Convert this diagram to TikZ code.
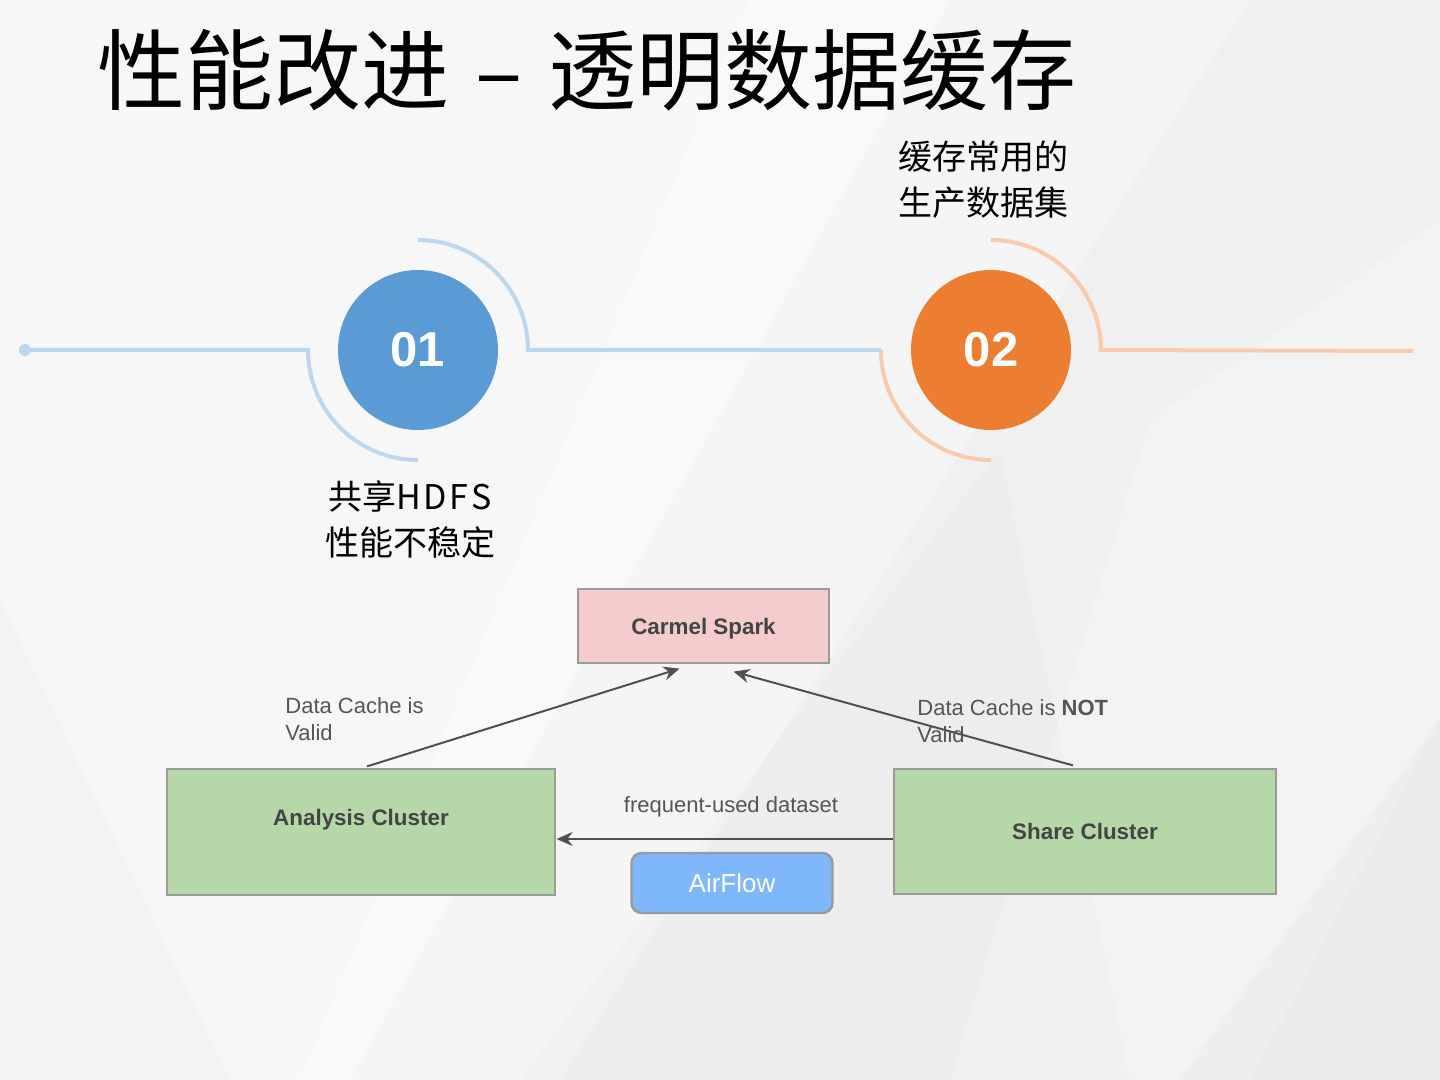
\documentclass[tikz,border=0pt]{standalone}
\usepackage{fontspec}
\setmainfont{Liberation Sans}
\newfontfamily\cjk{Noto Sans CJK SC}
\usetikzlibrary{calc,arrows.meta}
\definecolor{bgbase}{HTML}{F0F0F0}
\definecolor{blueline}{HTML}{BDD7EE}
\definecolor{orangeline}{HTML}{F8CBAD}
\definecolor{blueball}{HTML}{5B9BD5}
\definecolor{orangeball}{HTML}{ED7D31}
\definecolor{pinkbox}{HTML}{F4CCCC}
\definecolor{greenbox}{HTML}{B6D7A8}
\definecolor{airblue}{HTML}{7EB8FB}
\definecolor{boxedge}{HTML}{9A9A9A}
\definecolor{darktext}{HTML}{444444}
\definecolor{labeltext}{HTML}{555555}
\definecolor{arrowgray}{HTML}{505050}
\begin{document}
\begin{tikzpicture}[x=0.5pt,y=-0.5pt,
  bl/.style={blueline,line width=2pt},
  ol/.style={orangeline,line width=2pt},
  ball/.style={circle,minimum size=80pt,inner sep=0pt,text=white,font=\fontsize{24.5}{26}\selectfont\bfseries},
  cjklabel/.style={align=left,inner sep=0pt,font=\cjk\fontsize{17}{23}\selectfont,text=black},
  box/.style={draw=boxedge,line width=0.6pt,inner sep=0pt,text depth=0pt,text=darktext,font=\fontsize{11.2}{13}\selectfont\bfseries},
  lbl/.style={align=left,inner sep=0pt,text=labeltext,font=\fontsize{11}{13.5}\selectfont},
  arr/.style={arrowgray,line width=1pt,-{Stealth[length=8pt,width=7pt]}}]
\useasboundingbox (0,0) rectangle (1440,1080);
% background
\fill[bgbase] (0,0) rectangle (1440,1080);
\fill[white,opacity=0.5] (0,0) -- (950,0) -- (350,1080) -- (0,1080) -- cycle;
\fill[white,opacity=0.35] (750,0) -- (1250,0) -- (560,1080) -- (300,1080) -- cycle;
\fill[white,opacity=0.25] (1150,420) -- (1440,220) -- (1440,720) -- (1250,1080) -- (950,1080) -- cycle;
\fill[black,opacity=0.015] (0,600) -- (230,1080) -- (0,1080) -- cycle;
\fill[black,opacity=0.02] (1180,1080) -- (1440,720) -- (1440,1080) -- cycle;
\fill[black,opacity=0.012] (520,1080) -- (1000,450) -- (1130,1080) -- cycle;
% title
\node[anchor=west,inner sep=0pt,font=\cjk\fontsize{44}{46}\selectfont] (title) at (97,70) {性能改进\hspace{13pt}–\hspace{13pt}透明数据缓存};
% timeline
\node[circle,fill=blueline,minimum size=6pt,inner sep=0pt] (dot) at (25,350) {};
\node[ball,fill=blueball] (c1) at (418,350) {01};
\node[ball,fill=orangeball] (c2) at (991,350) {02};
\coordinate (rend) at (1413,351);
\draw[bl] (dot.center) -- ($(c1.center)+(-110,0)$) arc[start angle=180,end angle=270,radius=55pt];
\draw[bl] ($(c1.center)+(0,-110)$) arc[start angle=90,end angle=0,radius=55pt] -- ($(c2.center)+(-110,0)$);
\draw[ol] ($(c2.center)+(-110,0)$) arc[start angle=180,end angle=270,radius=55pt];
\draw[ol] ($(c2.center)+(0,-110)$) arc[start angle=90,end angle=0,radius=55pt] -- (rend);
\node[cjklabel,align=center] (t1) at (410,520) {共享H\hspace{1.3pt}D\hspace{1.3pt}F\hspace{1.3pt}S\\性能不稳定};
\node[cjklabel,anchor=west] (t2) at (898,180) {缓存常用的\\生产数据集};
% diagram
\node[box,fill=pinkbox,minimum width=125.5pt,minimum height=37pt] (carmel) at (703.5,626) {Carmel Spark};
\node[box,fill=greenbox,minimum width=194pt,minimum height=63pt] (analysis) at (361,832) {};
\node[box,anchor=center,draw=none,fill=none] (analysisT) at (361,817) {Analysis Cluster};
\node[box,fill=greenbox,minimum width=191pt,minimum height=62.5pt] (share) at (1085,831.5) {Share Cluster};
\node[draw=boxedge,line width=1.2pt,fill=airblue,rounded corners=5pt,minimum width=100.5pt,minimum height=30pt,inner sep=0pt,text=white,font=\fontsize{13}{15}\selectfont] (airflow) at (732,883) {AirFlow};
\draw[arr] ($(analysis.north)+(6,-2)$) -- ($(carmel.south)+(-24,5)$);
\draw[arr] ($(share.north)+(-12,-3)$) -- ($(carmel.south)+(30,8)$);
\draw[arr] ($(share.west)+(0,7.5)$) -- ($(analysis.east)+(1,7)$);
\node[lbl,anchor=north west] (l1) at (285,697) {Data Cache is\\Valid};
\node[lbl,anchor=north west] (l2) at (917,699) {Data Cache is \textbf{NOT}\\Valid};
\node[lbl,anchor=center] (l3) at (731,807) {frequent-used dataset};
\end{tikzpicture}
\end{document}
